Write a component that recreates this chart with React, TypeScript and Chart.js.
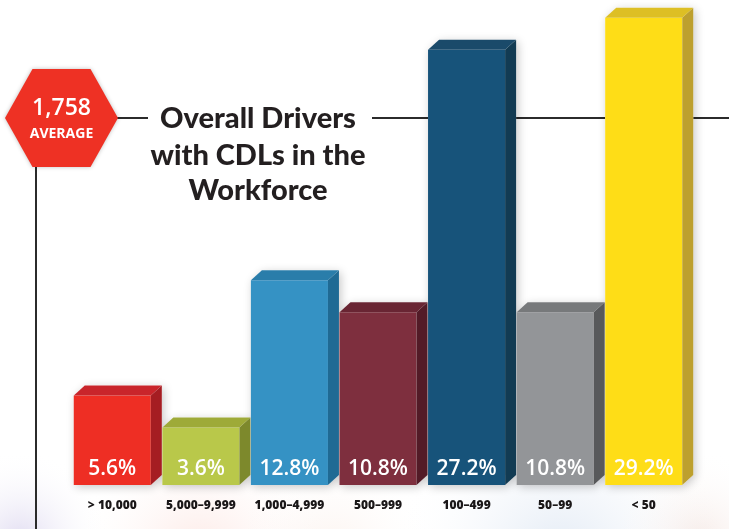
import React, { useEffect, useRef } from "react";
import { Chart, registerables } from "chart.js";

Chart.register(...registerables);

const categories = ["> 10,000", "5,000–9,999", "1,000–4,999", "500–999", "100–499", "50–99", "< 50"];
const values = [5.6, 3.6, 12.8, 10.8, 27.2, 10.8, 29.2];
const frontColors = ["#EE2E24", "#B9C84A", "#3592C4", "#7E2F3E", "#17537A", "#939598", "#FEDD17"];
const topColors = ["#C9252B", "#9EAA38", "#2A7DAA", "#692533", "#1A4A6A", "#77797B", "#DDBF24"];
const sideColors = ["#A51D22", "#7D892C", "#1F6A94", "#531B27", "#123B53", "#58595B", "#BDA02E"];
const titleLines = ["Overall Drivers", "with CDLs in the", "Workforce"];
const averageValue = "1,758";
const averageLabel = "AVERAGE";

const W = 729;
const H = 529;
const DX = 11;
const DY = 10;

export default function App() {
  const ref = useRef<HTMLCanvasElement | null>(null);

  useEffect(() => {
    let chart: Chart | null = null;
    let cancelled = false;
    document.body.style.margin = "0";

    const deco = {
      id: "deco",
      beforeDraw(c: any) {
        const ctx = c.ctx;
        ctx.save();
        ctx.fillStyle = "#ffffff";
        ctx.fillRect(0, 0, W, H);
        const blobs = [
          { x: 20, y: 540, r: 90, col: "rgba(190,180,225,0.45)" },
          { x: 200, y: 560, r: 130, col: "rgba(250,200,190,0.45)" },
          { x: 330, y: 560, r: 110, col: "rgba(245,215,200,0.35)" },
          { x: 560, y: 560, r: 170, col: "rgba(200,215,235,0.55)" },
          { x: 700, y: 540, r: 90, col: "rgba(230,200,190,0.35)" },
        ];
        for (const b of blobs) {
          const g = ctx.createRadialGradient(b.x, b.y, 0, b.x, b.y, b.r);
          g.addColorStop(0, b.col);
          g.addColorStop(1, "rgba(255,255,255,0)");
          ctx.fillStyle = g;
          ctx.fillRect(0, 380, W, H - 380);
        }
        ctx.restore();
      },
      beforeDatasetsDraw(c: any) {
        const ctx = c.ctx;
        ctx.save();
        ctx.strokeStyle = "#2b2b2b";
        ctx.lineWidth = 2;
        ctx.beginPath();
        ctx.moveTo(110, 118);
        ctx.lineTo(148, 118);
        ctx.moveTo(372, 118);
        ctx.lineTo(W, 118);
        ctx.moveTo(36, 160);
        ctx.lineTo(36, H);
        ctx.stroke();

        const cx = 61.5, cy = 118, hw = 56.5, hh = 49, tw = 29;
        ctx.fillStyle = "#EE3124";
        ctx.shadowColor = "rgba(0,0,0,0.25)";
        ctx.shadowBlur = 4;
        ctx.beginPath();
        ctx.moveTo(cx - hw, cy);
        ctx.lineTo(cx - tw, cy - hh);
        ctx.lineTo(cx + tw, cy - hh);
        ctx.lineTo(cx + hw, cy);
        ctx.lineTo(cx + tw, cy + hh);
        ctx.lineTo(cx - tw, cy + hh);
        ctx.closePath();
        ctx.fill();
        ctx.shadowBlur = 0;
        ctx.shadowColor = "transparent";
        ctx.fillStyle = "#ffffff";
        ctx.textAlign = "center";
        ctx.textBaseline = "alphabetic";
        ctx.font = "600 23px 'Open Sans'";
        ctx.fillText(averageValue, cx, 115);
        ctx.font = "700 14px 'Open Sans'";
        ctx.fillText(averageLabel, cx, 138);

        ctx.fillStyle = "#231F20";
        ctx.font = "900 29px Lato";
        const ys = [128, 165, 200];
        titleLines.forEach((t, i) => ctx.fillText(t, 258, ys[i]));

        const meta = c.getDatasetMeta(0);
        meta.data.forEach((el: any) => {
          const l = el.x - el.width / 2;
          const r = el.x + el.width / 2;
          ctx.fillStyle = "rgba(255,255,255,1)";
          ctx.shadowColor = "rgba(0,0,0,0.22)";
          ctx.shadowBlur = 10;
          ctx.shadowOffsetX = 2;
          ctx.shadowOffsetY = 2;
          ctx.beginPath();
          ctx.moveTo(l, el.base);
          ctx.lineTo(l, el.y);
          ctx.lineTo(l + DX, el.y - DY);
          ctx.lineTo(r + DX, el.y - DY);
          ctx.lineTo(r + DX, el.base - DY);
          ctx.lineTo(r, el.base);
          ctx.closePath();
          ctx.fill();
        });
        ctx.restore();
      },
      afterDatasetsDraw(c: any) {
        const ctx = c.ctx;
        const meta = c.getDatasetMeta(0);
        ctx.save();
        meta.data.forEach((el: any, i: number) => {
          const l = el.x - el.width / 2;
          const r = el.x + el.width / 2;
          const top = el.y;
          const base = el.base;
          ctx.fillStyle = topColors[i];
          ctx.beginPath();
          ctx.moveTo(l, top);
          ctx.lineTo(l + DX, top - DY);
          ctx.lineTo(r + DX, top - DY);
          ctx.lineTo(r, top);
          ctx.closePath();
          ctx.fill();
          ctx.fillStyle = sideColors[i];
          ctx.beginPath();
          ctx.moveTo(r, top);
          ctx.lineTo(r + DX, top - DY);
          ctx.lineTo(r + DX, base - DY);
          ctx.lineTo(r, base);
          ctx.closePath();
          ctx.fill();

          ctx.fillStyle = "#ffffff";
          ctx.textAlign = "center";
          ctx.textBaseline = "alphabetic";
          ctx.font = "600 21px 'Open Sans'";
          ctx.fillText(values[i].toFixed(1) + "%", el.x, 475);

          ctx.fillStyle = "#1a1718";
          ctx.font = "800 12px 'Open Sans'";
          ctx.fillText(categories[i], el.x, 509);
        });
        ctx.restore();
      },
    };

    const make = () => {
      if (cancelled || !ref.current) return;
      chart = new Chart(ref.current, {
        type: "bar",
        data: {
          labels: categories,
          datasets: [
            {
              data: values,
              backgroundColor: frontColors,
              borderWidth: 0,
              barPercentage: 0.87,
              categoryPercentage: 1,
            },
          ],
        },
        options: {
          responsive: false,
          animation: false,
          layout: { padding: { left: 68, right: 41, top: 5, bottom: 44 } },
          scales: {
            x: { display: false },
            y: { display: false, min: 0, max: 30 },
          },
          plugins: { legend: { display: false }, tooltip: { enabled: false } },
        },
        plugins: [deco],
      });
    };

    Promise.all([
      document.fonts.load("900 29px Lato"),
      document.fonts.load("800 12px 'Open Sans'"),
      document.fonts.load("700 14px 'Open Sans'"),
      document.fonts.load("600 21px 'Open Sans'"),
    ])
      .catch(() => null)
      .then(make);

    return () => {
      cancelled = true;
      if (chart) chart.destroy();
    };
  }, []);

  return (
    <div style={{ position: "fixed", left: 0, top: 0, width: W, height: H }}>
      <canvas ref={ref} width={W} height={H} style={{ display: "block", width: W, height: H }} />
    </div>
  );
}
